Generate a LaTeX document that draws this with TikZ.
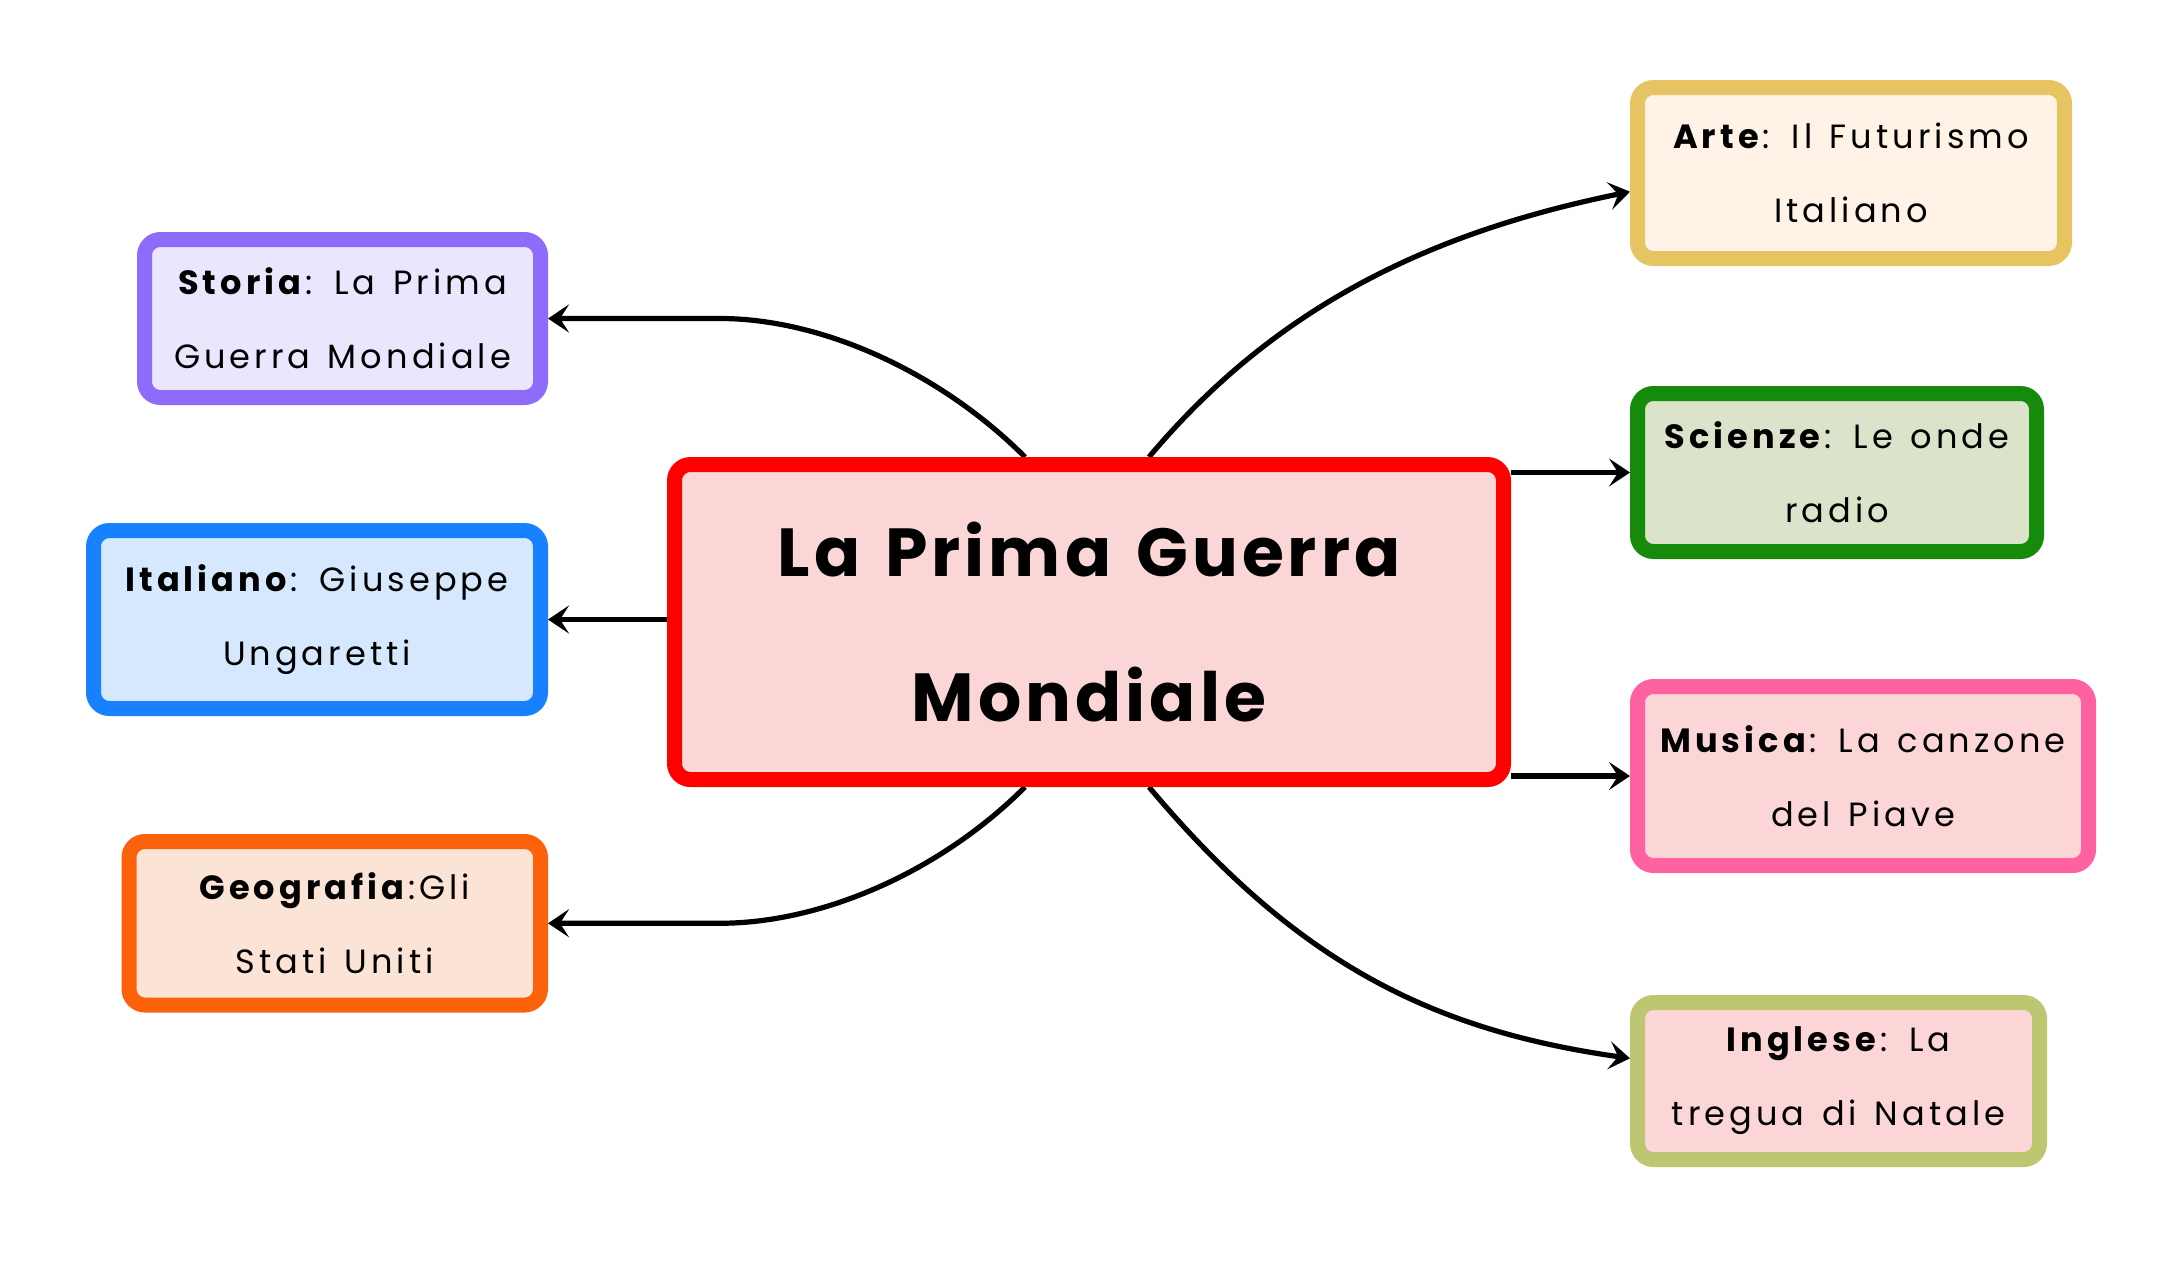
\documentclass[tikz,border=0pt]{standalone}
\usepackage{fontspec}
\setmainfont{Poppins}
\newfontfamily\boxfont{Poppins}[LetterSpace=12,WordSpace=1.35]
\newfontfamily\titlefont{Poppins}[LetterSpace=6,WordSpace=1.35]
\usetikzlibrary{arrows.meta,calc}
\pgfdeclarelayer{bg}
\pgfsetlayers{bg,main}
\definecolor{cRedB}{HTML}{FF0000}
\definecolor{cRedF}{HTML}{FBD6D6}
\definecolor{cPurB}{HTML}{8C6CF8}
\definecolor{cPurF}{HTML}{EBE5FE}
\definecolor{cBluB}{HTML}{1781FF}
\definecolor{cBluF}{HTML}{D5E8FD}
\definecolor{cOrgB}{HTML}{FB620B}
\definecolor{cOrgF}{HTML}{FBE3D6}
\definecolor{cYelB}{HTML}{E7C462}
\definecolor{cYelF}{HTML}{FEF3E6}
\definecolor{cGrnB}{HTML}{168A0B}
\definecolor{cGrnF}{HTML}{DBE4CB}
\definecolor{cPnkB}{HTML}{FF62A0}
\definecolor{cPnkF}{HTML}{FCD6D6}
\definecolor{cOliB}{HTML}{BFC672}
\definecolor{cOliF}{HTML}{FCD6D6}
\begin{document}
\begin{tikzpicture}[x=0.5pt,y=-0.5pt,
  mapbox/.style={draw, line width=7.5pt, rounded corners=8pt, inner sep=0pt,
    align=center, font=\boxfont\fontsize{16.8pt}{37pt}\selectfont},
  titlebox/.style={mapbox, font=\titlefont\bfseries\fontsize{34pt}{72.5pt}\selectfont},
  conn/.style={line width=2.6pt, -{Stealth[length=10.5pt,width=14pt,inset=4.5pt]}}]
\useasboundingbox (0,0) rectangle (2182,1260);

\node[titlebox, draw=cRedB, fill=cRedF, minimum width=414.5pt, minimum height=157.5pt] (central) at (1089,622) {La Prima Guerra\\Mondiale};

\node[mapbox, draw=cPurB, fill=cPurF, minimum width=198pt, minimum height=79pt] (storia) at (342.5,318.5) {\textbf{Storia}: La Prima\\Guerra Mondiale};
\node[mapbox, draw=cBluB, fill=cBluF, minimum width=223.5pt, minimum height=89pt] (italiano) at (317,619.5) {\textbf{Italiano}: Giuseppe\\Ungaretti};
\node[mapbox, draw=cOrgB, fill=cOrgF, minimum width=205.75pt, minimum height=81.75pt] (geografia) at (334.75,923.25) {\textbf{Geografia}:Gli\\Stati Uniti};

\node[mapbox, draw=cYelB, fill=cYelF, minimum width=213.5pt, minimum height=85.5pt] (arte) at (1851,173) {\textbf{Arte}: Il Futurismo\\Italiano};
\node[mapbox, draw=cGrnB, fill=cGrnF, minimum width=199.5pt, minimum height=79pt] (scienze) at (1837,472.5) {\textbf{Scienze}: Le onde\\radio};
\node[mapbox, draw=cPnkB, fill=cPnkF, minimum width=225.5pt, minimum height=89.5pt] (musica) at (1863,776) {\textbf{Musica}: La canzone\\del Piave};
\node[mapbox, draw=cOliB, fill=cOliF, minimum width=201pt, minimum height=78.5pt] (inglese) at (1838.5,1081) {\textbf{Inglese}: La\\tregua di Natale};

\coordinate (sbend) at ($(storia.east)+(172,0)$);
\coordinate (gbend) at ($(geografia.east)+(172,0)$);
\coordinate (aend) at ($(arte.west)+(0,18.7)$);
\coordinate (iend) at ($(inglese.west)+(0,-22.7)$);

\begin{pgfonlayer}{bg}
\fill[white] (0,0) rectangle (2182,1260);
\draw[conn] ($(central.north)+(-64,0)$) .. controls +(-84.8,-84.8) and +(102,0) .. (sbend) -- (storia.east);
\draw[conn] (central.west |- italiano.east) -- (italiano.east);
\draw[conn] ($(central.south)+(-64,0)$) .. controls +(-84.8,84.8) and +(102,0) .. (gbend) -- (geografia.east);
\draw[conn] ($(central.north)+(60,0)$) .. controls +(128.6,-153.2) and +(-196,40) .. (aend);
\draw[conn] (central.east |- scienze.west) -- (scienze.west);
\draw[conn] (central.east |- musica.west) -- (musica.west);
\draw[conn] ($(central.south)+(60,0)$) .. controls +(147.9,176.2) and +(-198,-28) .. (iend);
\end{pgfonlayer}
\end{tikzpicture}
\end{document}
